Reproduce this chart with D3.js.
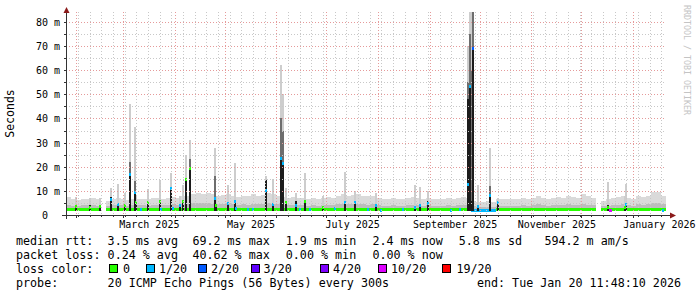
<!DOCTYPE html>
<html>
<head>
<meta charset="utf-8">
<script src="https://cdn.jsdelivr.net/npm/d3@7"></script>
<style>
  body { margin: 0; background: #fff; }
  svg { display: block; }
  text { font-family: "DejaVu Sans Mono", monospace; fill: #000; }
</style>
</head>
<body>
<div id="chart"></div>
<script>
// graph time span (360 days ending at "end:" in the legend)
var start = new Date(2025, 0, 25, 11, 48, 10),
    end = new Date(2026, 0, 20, 11, 48, 10),
    binDays = 3;

// background smoke, one value per 3-day bin (ms), null = no data
var smokeHi = [
  7.5, 6.5, 6.2, 6.5, 6.8, 7.2, 6.5, null, 6.0, 6.5,
  7.0, 6.5, 6.2, 6.8, 6.5, 6.8, 6.5, 7.0, 7.2, 6.5,
  7.0, 7.5, 7.0, 7.8, 8.0, 8.8, 9.0, 8.8, 9.0, 8.5,
  8.0, 8.2, 8.8, 8.0, 7.5, 8.0, 7.8, 8.5, 8.0, 8.3,
  9.0, 8.5, 8.0, 7.5, 7.0, 7.5, 7.2, 7.0, 6.8, 7.0,
  6.5, 7.0, 7.5, 7.2, 8.0, 8.5, 8.0, 8.3, 8.5, 8.0,
  7.8, 8.0, 7.0, 6.8, 6.5, 7.0, 6.5, 6.8, 7.0, 7.5,
  7.0, 6.8, 7.2, 6.5, 6.8, 6.5, 7.0, 6.8, 7.0, 7.5,
  7.0, 6.0, 5.5, 5.5, 5.8, 5.5, 6.5, 6.8, 6.5, 6.8,
  6.5, 7.0, 6.5, 7.2, 8.0, 7.0, 6.8, 7.0, 7.5, 7.0,
  8.0, 7.5, 7.2, 8.5, 7.8, 7.0, null, 6.0, 6.5, 7.0,
  7.5, 8.0, 7.0, 6.8, 8.0, 7.5, 8.0, 9.5, 9.5, 8.0
];
var smokeMid = [
  4.2, 3.8, 3.8, 4.0, 4.0, 4.2, 3.9, null, 3.8, 4.0,
  4.2, 4.0, 3.8, 4.0, 4.0, 4.1, 3.9, 4.2, 4.3, 4.0,
  4.2, 4.4, 4.2, 4.5, 4.6, 4.8, 5.0, 4.8, 4.9, 4.6,
  4.5, 4.5, 4.8, 4.4, 4.2, 4.4, 4.3, 4.6, 4.4, 4.5,
  4.8, 4.6, 4.4, 4.2, 4.0, 4.2, 4.1, 4.0, 3.9, 4.0,
  3.8, 4.0, 4.2, 4.1, 4.4, 4.6, 4.4, 4.5, 4.6, 4.4,
  4.3, 4.4, 4.0, 3.9, 3.8, 4.0, 3.8, 3.9, 4.0, 4.2,
  4.0, 3.9, 4.1, 3.8, 3.9, 3.8, 4.0, 3.9, 4.0, 4.2,
  4.0, 3.6, 3.3, 3.3, 3.4, 3.3, 3.8, 3.9, 3.8, 3.9,
  3.8, 4.0, 3.8, 4.1, 4.4, 4.0, 3.9, 4.0, 4.2, 4.0,
  4.4, 4.2, 4.1, 4.6, 4.3, 4.0, null, 3.6, 3.8, 4.0,
  4.2, 4.4, 4.0, 3.9, 4.4, 4.2, 4.4, 5.0, 5.0, 4.4
];
var medianRtt = [
  2.4, 2.3, 2.3, 2.3, 2.4, 2.3, 2.3, null, 2.3, 2.3,
  2.4, 2.3, 2.3, 2.3, 2.3, 2.4, 2.3, 2.3, 2.3, 2.3,
  2.4, 2.3, 2.3, 2.4, 2.4, 2.3, 2.4, 2.3, 2.3, 2.4,
  2.3, 2.3, 2.4, 2.3, 2.3, 2.3, 2.4, 2.3, 2.3, 2.4,
  2.4, 2.3, 2.3, 2.3, 2.3, 2.3, 2.4, 2.3, 2.3, 2.3,
  2.3, 2.3, 2.4, 2.3, 2.3, 2.4, 2.3, 2.3, 2.4, 2.3,
  2.3, 2.3, 2.3, 2.3, 2.3, 2.4, 2.3, 2.3, 2.3, 2.3,
  2.3, 2.3, 2.4, 2.3, 2.3, 2.3, 2.3, 2.3, 2.3, 2.4,
  2.3, 2.1, 2.1, 2.1, 2.1, 2.1, 2.3, 2.3, 2.3, 2.3,
  2.3, 2.4, 2.3, 2.3, 2.4, 2.3, 2.3, 2.3, 2.3, 2.4,
  2.3, 2.3, 2.3, 2.4, 2.3, 2.3, null, 2.3, 2.3, 2.3,
  2.3, 2.3, 2.3, 2.3, 2.3, 2.3, 2.4, 2.3, 2.3, 2.3
];
var binLoss = [
  0, 0, 0, 0, 0, 0, 0, 0, 0, 0,
  0, 0, 0, 0, 0, 0, 0, 0, 0, 0,
  0, 0, 0, 0, 0, 0, 0, 0, 0, 0,
  0, 0, 0, 0, 0, 0, 0, 0, 0, 0,
  0, 0, 0, 0, 0, 0, 0, 0, 0, 0,
  0, 0, 0, 0, 0, 0, 0, 0, 0, 0,
  0, 0, 0, 0, 0, 0, 0, 0, 0, 0,
  0, 0, 0, 0, 0, 0, 0, 0, 0, 0,
  0, 1, 1, 1, 1, 1, 0, 0, 0, 0,
  0, 0, 0, 0, 0, 0, 0, 0, 0, 0,
  0, 0, 0, 0, 0, 0, 0, 0, 0, 0,
  0, 0, 0, 0, 0, 0, 0, 0, 0, 0
];
var smokeFloor = 1.7;

// single-day latency spikes: date, dark smoke top, mid smoke top, grey smoke top, median, loss index
var spikes = [
  ["2025-01-31", 4.0, null, 7.5, 3.8, 0],
  ["2025-02-08", 4.0, null, 7.0, 3.5, 0],
  ["2025-02-14", 4.2, null, 7.0, 3.8, 0],
  ["2025-02-21", 7.6, null, 11.0, 6.5, 1],
  ["2025-02-25", 4.5, null, 13.0, 4.5, 1],
  ["2025-03-01", 4.0, null, 9.0, 4.0, 0],
  ["2025-03-04", 17.3, 22.0, 46.0, 17.0, 1],
  ["2025-03-07", 9.7, 14.0, 36.6, 9.5, 1],
  ["2025-03-08", 5.5, null, 8.0, 5.3, 0],
  ["2025-03-15", 5.5, null, 10.8, 5.3, 0],
  ["2025-03-22", 6.2, null, 14.5, 5.8, 0],
  ["2025-03-29", 11.0, null, 17.5, 11.0, 1],
  ["2025-04-03", 4.0, null, 8.0, 4.0, 1],
  ["2025-04-05", 6.0, null, 12.4, 5.8, 0],
  ["2025-04-07", 15.2, null, 25.0, 15.0, 0],
  ["2025-04-09", 19.4, 23.0, 31.0, 19.5, 0],
  ["2025-04-24", 6.9, 16.0, 27.8, 6.9, 1],
  ["2025-04-25", 4.0, null, 8.0, 4.0, 0],
  ["2025-05-02", 5.0, null, 12.4, 4.8, 1],
  ["2025-05-06", 6.0, null, 21.5, 6.0, 1],
  ["2025-05-25", 14.5, null, 16.0, 10.4, 1],
  ["2025-05-29", 4.5, null, 15.0, 4.5, 1],
  ["2025-06-03", 23.5, 40.0, 62.0, 23.5, 1],
  ["2025-06-04", 21.4, 35.0, 50.0, 21.4, 1],
  ["2025-06-06", 6.0, null, 11.0, 5.5, 0],
  ["2025-06-12", 6.0, null, 9.0, 4.0, 1],
  ["2025-06-17", 6.0, null, 17.3, 5.8, 0],
  ["2025-06-28", 3.5, null, 8.0, 3.3, 0],
  ["2025-07-11", 5.5, null, 18.0, 5.5, 1],
  ["2025-07-17", 5.5, null, 10.0, 5.3, 1],
  ["2025-07-30", 4.2, null, 9.0, 4.0, 1],
  ["2025-08-22", 3.5, null, 12.4, 3.5, 1],
  ["2025-08-25", 4.5, null, 11.5, 4.1, 1],
  ["2025-08-30", 6.0, null, 10.0, 4.8, 1],
  ["2025-09-23", 48.0, 55.0, 70.0, 12.7, 1],
  ["2025-09-24", 53.5, 75.0, 84.0, 53.5, 1],
  ["2025-09-25", 6.0, 60.0, 84.0, null, 1],
  ["2025-09-26", 69.2, 84.0, 84.0, 69.2, 2],
  ["2025-09-29", 4.0, null, 12.4, 3.7, 1],
  ["2025-10-06", 8.3, 12.0, 27.6, 8.3, 1],
  ["2025-10-11", 5.5, null, 7.0, 5.5, 1],
  ["2025-12-16", 4.1, null, 13.8, 3.5, 0],
  ["2025-12-26", 3.5, null, 8.0, 3.5, 0],
  ["2025-12-27", 5.0, null, 13.0, 4.5, 1]
];

// days with some loss at the normal median: date, median, loss index
var blips = [
  ["2025-03-11", 2.5, 1], ["2025-03-23", 2.5, 1], ["2025-03-30", 2.8, 1],
  ["2025-05-07", 2.8, 1], ["2025-05-14", 2.5, 1], ["2025-05-17", 2.5, 1],
  ["2025-06-14", 2.5, 1], ["2025-06-20", 2.4, 1], ["2025-07-05", 2.8, 1],
  ["2025-07-25", 2.5, 1], ["2025-08-02", 2.2, 1], ["2025-08-15", 2.5, 1],
  ["2025-09-13", 2.2, 1], ["2025-09-18", 2.5, 1], ["2025-12-17", 1.9, 5],
  ["2025-12-18", 1.9, 5], ["2026-01-18", 2.1, 1]
];

var lossColors = ["#26ff00", "#00b8ff", "#0059ff", "#5e00ff", "#7e00ff", "#dd00ff", "#ff0000"];
var lossLabels = ["0", "1/20", "2/20", "3/20", "4/20", "10/20", "19/20"];

var yTicks = [0, 10, 20, 30, 40, 50, 60, 70, 80];
var xLabels = ["March 2025", "May 2025", "July 2025", "September 2025", "November 2025", "January 2026"];
var xLabelMonths = ["2025-03", "2025-05", "2025-07", "2025-09", "2025-11", "2026-01"];

var rttStats = ["3.5 ms avg", "69.2 ms max", "1.9 ms min", "2.4 ms now", "5.8 ms sd", "594.2 m am/s"];
var lossStats = ["0.24 % avg", "40.62 % max", "0.00 % min", "0.00 % now"];
var probeText = "20 ICMP Echo Pings (56 Bytes) every 300s";
var endText = "end: Tue Jan 20 11:48:10 2026";

// ---------------------------------------------------------------
var W = 697, H = 297;
var plot = {left: 66, right: 666, top: 12, bottom: 215};
var statCols = [107.6, 192.4, 285.8, 372.4, 458.7, 544.4];
var boxCols = [108.9, 145.8, 197.8, 251, 320, 377.8, 442];
var boxLabelCols = [123, 159, 211, 263.6, 333, 391, 456.4];
var legendRows = [245, 259, 273, 287];

var svg = d3.select("#chart").append("svg")
  .attr("width", W)
  .attr("height", H)
  .attr("shape-rendering", "crispEdges");

svg.append("rect").attr("width", W).attr("height", H).attr("fill", "#fff");

var x = d3.scaleTime().domain([start, end]).range([plot.left, plot.right]);
var y = d3.scaleLinear().domain([0, 84.1]).range([plot.bottom, plot.top]);

svg.append("clipPath").attr("id", "plotclip")
  .append("rect")
  .attr("x", plot.left).attr("y", plot.top)
  .attr("width", plot.right - plot.left).attr("height", plot.bottom - plot.top);

var parseDay = d3.timeParse("%Y-%m-%d");
var parseMonth = d3.timeParse("%Y-%m");

// bins
var bins = smokeHi.map(function(hi, i) {
  var t0 = d3.timeDay.offset(start, i * binDays);
  var t1 = d3.timeDay.offset(start, (i + 1) * binDays);
  if (t1 > end) t1 = end;
  return {t0: t0, t1: t1, hi: hi, mid: smokeMid[i], med: medianRtt[i], loss: binLoss[i]};
}).filter(function(d) { return d.hi != null; });

var spikeData = spikes.map(function(s) {
  var t0 = parseDay(s[0]);
  return {t0: t0, t1: d3.timeDay.offset(t0, 1), dark: s[1], mid: s[2], grey: s[3], med: s[4], loss: s[5]};
});
var blipData = blips.map(function(b) {
  var t0 = parseDay(b[0]);
  return {t0: t0, t1: d3.timeDay.offset(t0, 1), med: b[1], loss: b[2]};
});

function colX(d) { return Math.round(x(d.t0)); }
function colW(d) { return Math.max(2, Math.round(x(d.t1)) - Math.round(x(d.t0))); }
function band(g, data, top, color) {
  g.selectAll(null)
    .data(data.filter(function(d) { return top(d) != null; }))
    .enter().append("rect")
      .attr("x", colX)
      .attr("width", colW)
      .attr("y", function(d) { return Math.round(y(top(d))); })
      .attr("height", function(d) { return Math.max(0, Math.round(y(smokeFloor)) - Math.round(y(top(d)))); })
      .attr("fill", color);
}

var data = svg.append("g").attr("clip-path", "url(#plotclip)");

// smoke
band(data, bins, function(d) { return d.hi; }, "#dadada");
band(data, bins, function(d) { return d.mid; }, "#bdbdbd");

// median band of the bins
data.selectAll(".med")
  .data(bins)
  .enter().append("rect")
    .attr("x", colX)
    .attr("width", function(d) { return Math.round(x(d.t1)) - Math.round(x(d.t0)); })
    .attr("y", function(d) { return Math.round(y(d.med)) - 1; })
    .attr("height", 3)
    .attr("fill", function(d) { return lossColors[d.loss]; });

// spikes
band(data, spikeData, function(d) { return d.grey; }, "#cdcdcd");
band(data, spikeData, function(d) { return d.mid; }, "#6e6e6e");
band(data, spikeData, function(d) { return d.dark; }, "#1c1c1c");

data.selectAll(".smed")
  .data(spikeData.filter(function(d) { return d.med != null; }).concat(blipData))
  .enter().append("rect")
    .attr("x", colX)
    .attr("width", colW)
    .attr("y", function(d) { return Math.round(y(d.med)) - 1; })
    .attr("height", 3)
    .attr("fill", function(d) { return lossColors[d.loss]; });

// grid
var grid = svg.append("g").attr("stroke-dasharray", "1,2").attr("stroke-width", 1);
var weeks = d3.timeWeek.range(start, end);
var months = d3.timeMonth.range(start, end);
var minorY = d3.range(5, 85, 5).filter(function(v) { return v % 10 !== 0; });
var majorY = yTicks.filter(function(v) { return v > 0; });

grid.selectAll(".wk").data(weeks).enter().append("line")
  .attr("x1", function(d) { return Math.floor(x(d)) + 0.5; })
  .attr("x2", function(d) { return Math.floor(x(d)) + 0.5; })
  .attr("y1", plot.top).attr("y2", plot.bottom)
  .attr("stroke", "#c8c8c8");
grid.selectAll(".my").data(minorY).enter().append("line")
  .attr("x1", plot.left).attr("x2", plot.right)
  .attr("y1", function(d) { return Math.round(y(d)) + 0.5; })
  .attr("y2", function(d) { return Math.round(y(d)) + 0.5; })
  .attr("stroke", "#c8c8c8");
grid.selectAll(".mo").data(months).enter().append("line")
  .attr("x1", function(d) { return Math.floor(x(d)) + 0.5; })
  .attr("x2", function(d) { return Math.floor(x(d)) + 0.5; })
  .attr("y1", plot.top).attr("y2", plot.bottom)
  .attr("stroke", "#e59a9a");
grid.selectAll(".Y").data(majorY).enter().append("line")
  .attr("x1", plot.left).attr("x2", plot.right)
  .attr("y1", function(d) { return Math.round(y(d)) + 0.5; })
  .attr("y2", function(d) { return Math.round(y(d)) + 0.5; })
  .attr("stroke", "#e59a9a");

// axes
var axis = svg.append("g").attr("stroke", "#333");
axis.append("line").attr("x1", plot.left - 4).attr("x2", plot.right + 6)
  .attr("y1", plot.bottom + 0.5).attr("y2", plot.bottom + 0.5);
axis.append("line").attr("x1", plot.left + 0.5).attr("x2", plot.left + 0.5)
  .attr("y1", plot.bottom + 4).attr("y2", plot.top - 2);
axis.selectAll(".tx").data(weeks).enter().append("line")
  .attr("x1", function(d) { return Math.floor(x(d)) + 0.5; })
  .attr("x2", function(d) { return Math.floor(x(d)) + 0.5; })
  .attr("y1", plot.bottom).attr("y2", plot.bottom + 2);
axis.selectAll(".tm").data(months).enter().append("line")
  .attr("x1", function(d) { return Math.floor(x(d)) + 0.5; })
  .attr("x2", function(d) { return Math.floor(x(d)) + 0.5; })
  .attr("y1", plot.bottom).attr("y2", plot.bottom + 3);
axis.selectAll(".ty").data(minorY.concat(majorY)).enter().append("line")
  .attr("x1", plot.left - 2).attr("x2", plot.left)
  .attr("y1", function(d) { return Math.round(y(d)) + 0.5; })
  .attr("y2", function(d) { return Math.round(y(d)) + 0.5; });

// arrows
svg.append("path")
  .attr("d", "M" + (plot.left + 0.5) + "," + (plot.top - 5) + "L" + (plot.left + 3.5) + "," + (plot.top + 1) + "L" + (plot.left - 2.5) + "," + (plot.top + 1) + "Z")
  .attr("fill", "#8b1a1a").attr("shape-rendering", "auto");
svg.append("path")
  .attr("d", "M" + (plot.right + 10) + "," + (plot.bottom + 0.5) + "L" + (plot.right + 4) + "," + (plot.bottom - 2.5) + "L" + (plot.right + 4) + "," + (plot.bottom + 3.5) + "Z")
  .attr("fill", "#8b1a1a").attr("shape-rendering", "auto");

// y labels
svg.append("g").selectAll("text").data(yTicks).enter().append("text")
  .attr("x", function(d) { return d === 0 ? 48 : 60; })
  .attr("y", function(d) { return Math.round(y(d)) + 4; })
  .attr("text-anchor", "end")
  .attr("font-size", 10)
  .text(function(d) { return d === 0 ? "0" : d + " m"; });

// x labels, centred in their month
svg.append("g").selectAll("text").data(xLabels).enter().append("text")
  .attr("x", function(d, i) {
    var m = parseMonth(xLabelMonths[i]);
    return (x(m) + x(d3.timeMonth.offset(m, 1))) / 2;
  })
  .attr("y", 228)
  .attr("text-anchor", "middle")
  .attr("font-size", 10)
  .text(function(d) { return d; });

// unit title
svg.append("text")
  .attr("transform", "translate(14,113.5) rotate(-90)")
  .attr("text-anchor", "middle")
  .attr("font-size", 11.5)
  .text("Seconds");

// watermark
svg.append("text")
  .attr("transform", "translate(684,5) rotate(90)")
  .attr("font-size", 8.3)
  .style("fill", "#c4c4c4")
  .text("RRDTOOL / TOBI OETIKER");

// legend
var legend = svg.append("g").attr("font-size", 11.7);
legend.append("text").attr("x", 16).attr("y", legendRows[0]).text("median rtt:");
legend.selectAll(".rs").data(rttStats).enter().append("text")
  .attr("x", function(d, i) { return statCols[i]; })
  .attr("y", legendRows[0])
  .text(function(d) { return d; });
legend.append("text").attr("x", 16).attr("y", legendRows[1]).text("packet loss:");
legend.selectAll(".ls").data(lossStats).enter().append("text")
  .attr("x", function(d, i) { return statCols[i]; })
  .attr("y", legendRows[1])
  .text(function(d) { return d; });
legend.append("text").attr("x", 16).attr("y", legendRows[2]).text("loss color:");
legend.selectAll(".lb").data(lossColors).enter().append("rect")
  .attr("x", function(d, i) { return Math.round(boxCols[i]) + 0.5; })
  .attr("y", legendRows[2] - 8.5)
  .attr("width", 8).attr("height", 8)
  .attr("fill", function(d) { return d; })
  .attr("stroke", "#000");
legend.selectAll(".lt").data(lossLabels).enter().append("text")
  .attr("x", function(d, i) { return boxLabelCols[i]; })
  .attr("y", legendRows[2])
  .text(function(d) { return d; });
legend.append("text").attr("x", 16).attr("y", legendRows[3]).text("probe:");
legend.append("text").attr("x", statCols[0]).attr("y", legendRows[3]).text(probeText);
legend.append("text").attr("x", 681).attr("y", legendRows[3]).attr("text-anchor", "end").text(endText);
</script>
</body>
</html>
